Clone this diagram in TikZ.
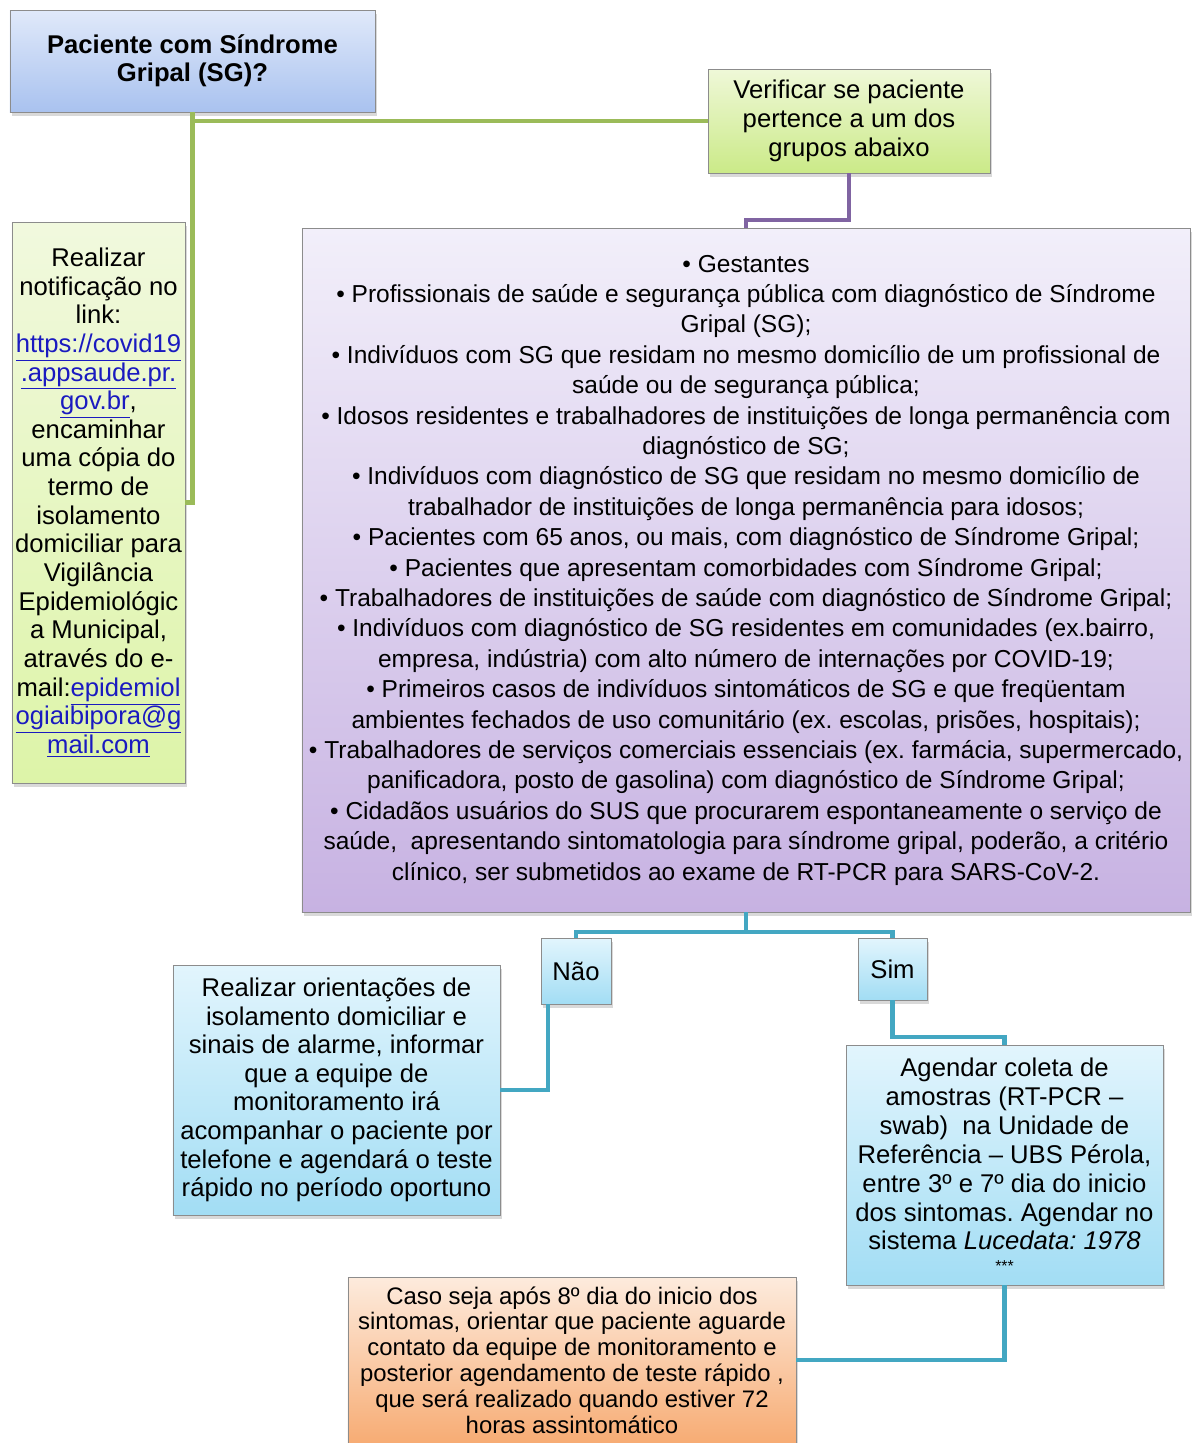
\documentclass[tikz,border=0pt]{standalone}
\usepackage{fontspec}
\setmainfont{Liberation Sans}
\usetikzlibrary{calc,shadows}
\frenchspacing
\definecolor{bluetop}{HTML}{E0E9FA}
\definecolor{bluebot}{HTML}{A9C2EF}
\definecolor{greentop}{HTML}{EFF8D8}
\definecolor{greenbot}{HTML}{CBEA88}
\definecolor{limetop}{HTML}{F1F9DE}
\definecolor{limebot}{HTML}{DDF4A8}
\definecolor{lilactop}{HTML}{F2EFFA}
\definecolor{lilacbot}{HTML}{C7B2E2}
\definecolor{aquatop}{HTML}{E2F5FD}
\definecolor{aquabot}{HTML}{A2DDF4}
\definecolor{orangetop}{HTML}{FDEBDD}
\definecolor{orangebot}{HTML}{F7AC74}
\definecolor{glinecol}{HTML}{9BBB59}
\definecolor{plinecol}{HTML}{8064A2}
\definecolor{tlinecol}{HTML}{43A7C2}
\definecolor{lnkblue}{HTML}{1A1AC0}
\newcommand{\lnk}[1]{\textcolor{lnkblue}{\underline{#1}}}
\tikzstyle{box} = [draw=black!45, line width=.5pt, inner sep=0pt, align=center, drop shadow={opacity=.3,shadow xshift=.4mm,shadow yshift=-.8mm}, font=\fontsize{14.6}{16.4}\selectfont]
\tikzstyle{qbox} = [box, top color=bluetop, bottom color=bluebot, font=\fontsize{14.6}{15.9}\selectfont\bfseries]
\tikzstyle{gbox} = [box, top color=greentop, bottom color=greenbot]
\tikzstyle{lbox} = [box, top color=limetop, bottom color=limebot, font=\fontsize{14.6}{16.3}\selectfont]
\tikzstyle{pbox} = [box, top color=lilactop, bottom color=lilacbot, font=\fontsize{13.95}{17.3}\selectfont]
\tikzstyle{abox} = [box, top color=aquatop, bottom color=aquabot]
\tikzstyle{obox} = [box, top color=orangetop, bottom color=orangebot, font=\fontsize{13.6}{14.7}\selectfont]
\tikzstyle{gline} = [draw=glinecol, line width=2.3pt]
\tikzstyle{pline} = [draw=plinecol, line width=2.3pt]
\tikzstyle{tline} = [draw=tlinecol, line width=2.3pt]

\begin{document}
\begin{tikzpicture}[x=.2mm, y=-.2mm]
    \useasboundingbox (0,0) rectangle (1192,1443);
    \draw (192.5,61) node[qbox, minimum width=73mm, minimum height=20.4mm] (pac) {Paciente com Síndrome\\Gripal (SG)?};
    \draw (849,121) node[gbox, minimum width=56.4mm, minimum height=20.8mm] (ver) {Verificar se paciente\\pertence a um dos\\grupos abaixo};
    \draw (98.5,502.5) node[lbox, minimum width=34.6mm, minimum height=112.2mm] (notif) {Realizar\\notificação no\\link:\\\lnk{https://covid19}\\\lnk{.appsaude.pr.}\\\lnk{gov.br},\\encaminhar\\uma cópia do\\termo de\\isolamento\\domiciliar para\\Vigilância\\Epidemiológic\\a Municipal,\\através do e-\\mail:\lnk{epidemiol}\\\lnk{ogiaibipora@g}\\\lnk{mail.com}};
    \draw (746,570) node[pbox, minimum width=177.6mm, minimum height=136.8mm] (grp) {• Gestantes\\
        • Profissionais de saúde e segurança pública com diagnóstico de Síndrome\\Gripal (SG);\\
        • Indivíduos com SG que residam no mesmo domicílio de um profissional de\\saúde ou de segurança pública;\\
        • Idosos residentes e trabalhadores de instituições de longa permanência com\\diagnóstico de SG;\\
        • Indivíduos com diagnóstico de SG que residam no mesmo domicílio de\\trabalhador de instituições de longa permanência para idosos;\\
        • Pacientes com 65 anos, ou mais, com diagnóstico de Síndrome Gripal;\\
        • Pacientes que apresentam comorbidades com Síndrome Gripal;\\
        • Trabalhadores de instituições de saúde com diagnóstico de Síndrome Gripal;\\
        • Indivíduos com diagnóstico de SG residentes em comunidades (ex.bairro,\\empresa, indústria) com alto número de internações por COVID-19;\\
        • Primeiros casos de indivíduos sintomáticos de SG e que freqüentam\\ambientes fechados de uso comunitário (ex. escolas, prisões, hospitais);\\
        • Trabalhadores de serviços comerciais essenciais (ex. farmácia, supermercado,\\panificadora, posto de gasolina) com diagnóstico de Síndrome Gripal;\\
        • Cidadãos usuários do SUS que procurarem espontaneamente o serviço de\\saúde,\ \ apresentando sintomatologia para síndrome gripal, poderão, a critério\\clínico, ser submetidos ao exame de RT-PCR para SARS-CoV-2.};
    \draw (576,971) node[abox, minimum width=14mm, minimum height=13.2mm] (nao) {Não};
    \draw (892.5,969) node[abox, minimum width=13.8mm, minimum height=12.4mm] (sim) {Sim};
    \draw (336.5,1090) node[abox, minimum width=65.4mm, minimum height=50mm, font=\fontsize{14.6}{16.3}\selectfont] (orient) {Realizar orientações de\\isolamento domiciliar e\\sinais de alarme, informar\\que a equipe de\\monitoramento irá\\acompanhar o paciente por\\telefone e agendará o teste\\rápido no período oportuno};
    \draw (1004.5,1165) node[abox, minimum width=63.4mm, minimum height=48mm] (agd) {Agendar coleta de\\amostras (RT-PCR –\\swab)\ \ na Unidade de\\Referência – UBS Pérola,\\entre 3º e 7º dia do inicio\\dos sintomas. Agendar no\\sistema \textit{Lucedata: 1978}\\[-4pt]{\fontsize{9}{10}\selectfont ***}};
    \draw (572,1360) node[obox, minimum width=89.6mm, minimum height=33.2mm] (caso) {Caso seja após 8º dia do inicio dos\\sintomas, orientar que paciente aguarde\\contato da equipe de monitoramento e\\posterior agendamento de teste rápido ,\\que será realizado quando estiver 72\\horas assintomático};
    \draw [gline] (pac.south) |- (ver.west);
    \draw [gline] (pac.south) |- (notif.east);
    \draw [pline] (ver.south) -- ++(0,47) -| (grp.north);
    \draw [tline] (grp.south) -- ++(0,20) -| (nao.north);
    \draw [tline] (grp.south) -- ++(0,20) -| (sim.north);
    \draw [tline] ($(nao.south west)+(7,0)$) |- (orient.east);
    \draw [tline] (sim.south) -- ++(0,37) -| (agd.north);
    \draw [tline] (agd.south) |- (caso.east);
\end{tikzpicture}
\end{document}
